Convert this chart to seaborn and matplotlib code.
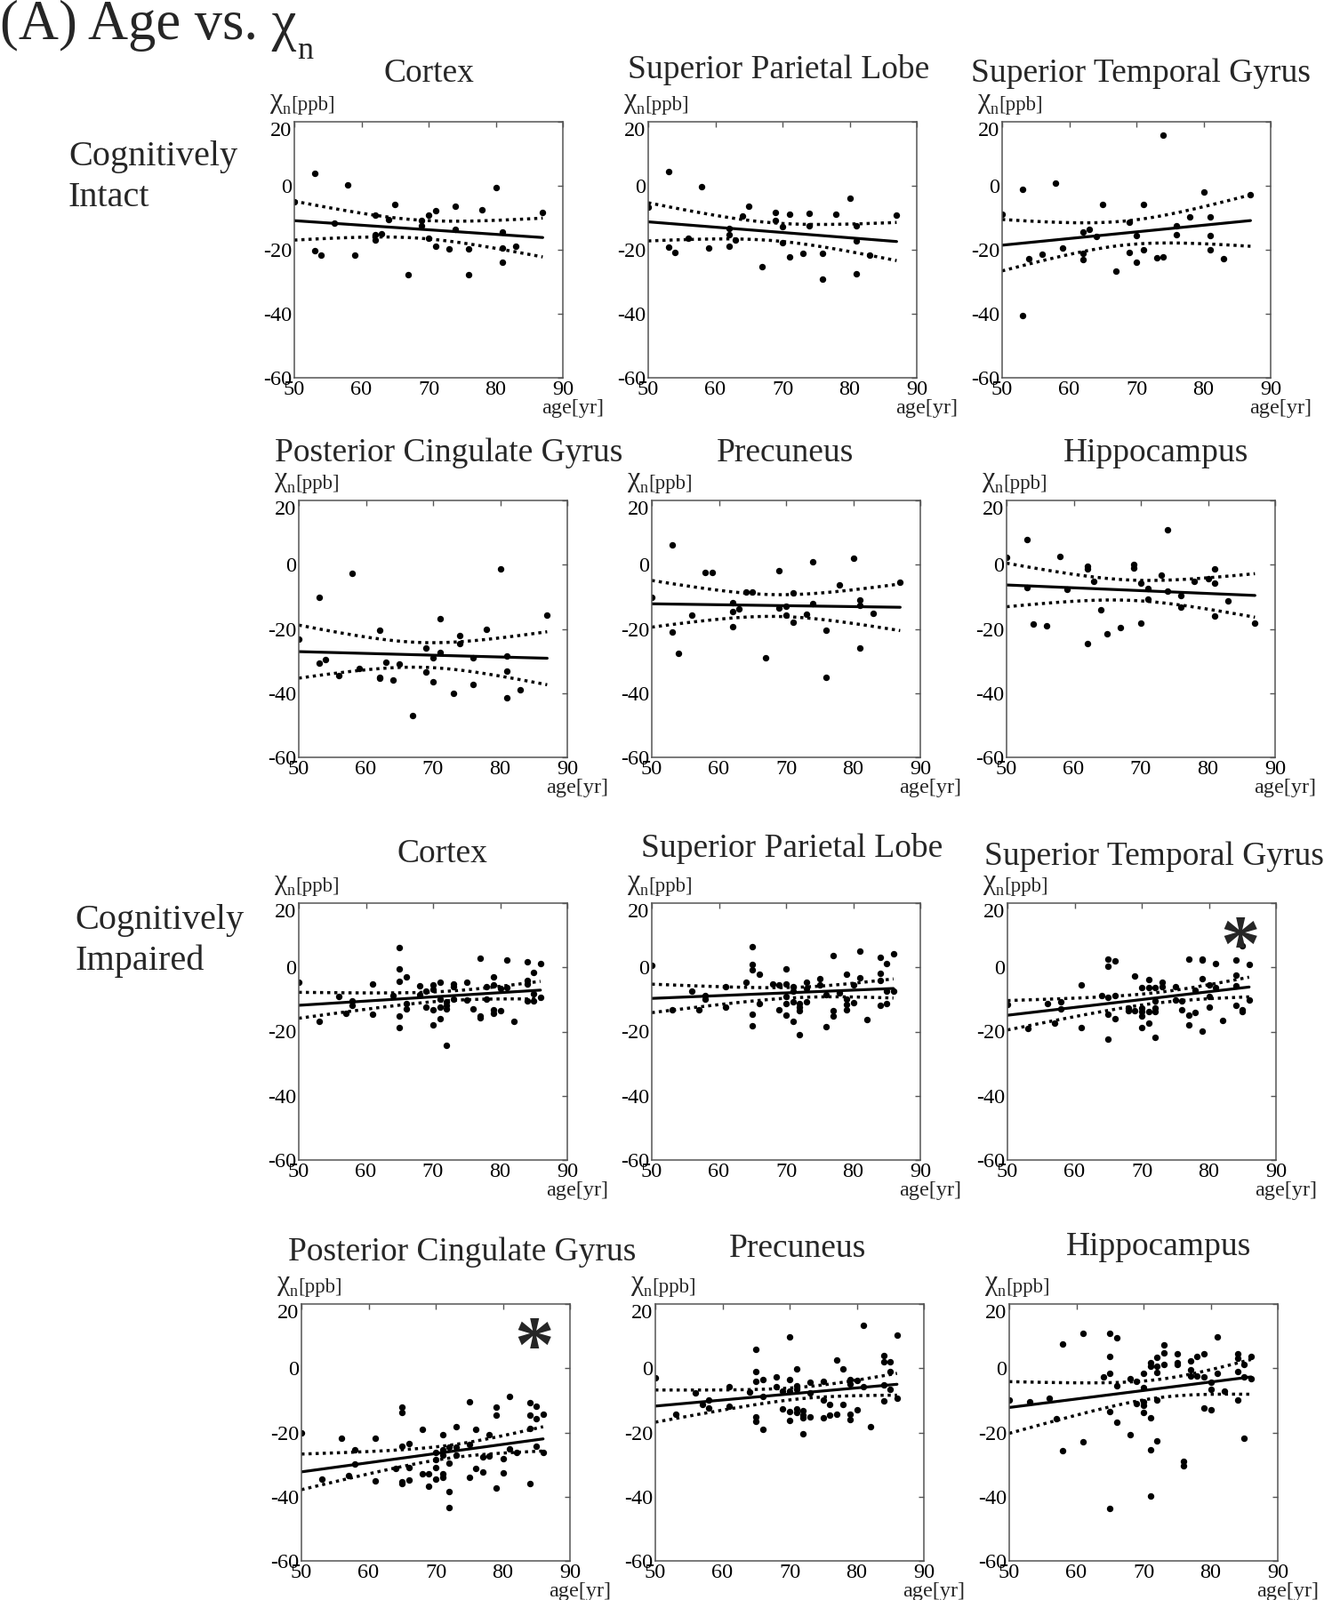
import numpy as np
import pandas as pd
import matplotlib
matplotlib.use("Agg")
import matplotlib.pyplot as plt
import seaborn as sns

# ---------------- data ----------------
# cognitively intact: same subjects (ages) in every region
intact_age = [50, 53, 53, 54, 56, 58, 59, 62, 62, 62, 63, 64, 65, 67, 69, 69,
              70, 70, 71, 71, 73, 74, 74, 76, 76, 78, 80, 81, 81, 81, 83, 87]

int_cortex = [-5.0, 4.0, -20.2, -21.7, -11.7, 0.2, -21.7, -9.1, -15.4, -17.0, -14.9,
              -10.5, -5.9, -27.9, -10.7, -12.6, -9.1, -16.5, -7.8, -18.9, -19.8, -6.4,
              -13.6, -19.8, -27.9, -7.5, -0.6, -14.5, -23.9, -19.5, -19.0, -8.2]
int_spl = [-6.6, 4.5, -19.1, -20.9, -16.4, -0.4, -19.4, -13.3, -15.4, -18.9, -17.0,
           -9.4, -6.4, -25.3, -8.4, -10.8, -12.8, -17.9, -9.0, -22.3, -21.2, -8.7,
           -12.4, -21.2, -29.2, -9.0, -3.8, -12.4, -17.3, -27.6, -21.8, -9.2]
int_stg = [-9.0, -1.1, -40.6, -22.9, -21.4, 0.9, -19.4, -14.5, -21.2, -23.1, -13.6,
           -15.9, -5.9, -26.8, -11.5, -20.8, -15.5, -24.0, -5.9, -19.9, -22.4, 15.9,
           -22.3, -12.5, -15.2, -9.6, -2.0, -9.6, -15.5, -20.0, -22.9, -2.8]
int_pcg = [-23.1, -10.2, -30.6, -29.6, -34.6, -2.8, -32.4, -20.3, -35.4, -35.0, -30.3,
           -35.8, -30.9, -47.1, -25.9, -33.5, -29.1, -36.6, -16.9, -27.2, -40.0, -22.0,
           -24.6, -29.1, -37.2, -20.1, -1.4, -28.4, -33.1, -41.5, -39.1, -15.7]
int_prec = [-10.3, 6.2, -21.1, -27.7, -15.8, -2.5, -2.5, -11.8, -14.6, -19.4, -13.9,
            -8.4, -8.6, -28.9, -1.9, -13.6, -13.0, -15.7, -8.9, -18.0, -15.5, 0.8,
            -12.1, -20.3, -35.2, -6.3, 2.0, -11.1, -12.7, -25.9, -15.2, -5.4]
int_hipp = [2.3, 7.7, -7.2, -18.6, -19.0, 2.6, -7.7, -0.6, -1.2, -24.5, -5.2,
            -14.0, -21.6, -19.5, 0.0, -0.9, -5.8, -18.1, -7.4, -10.6, -3.3, 10.8,
            -8.1, -9.5, -13.2, -5.1, -4.3, -1.2, -5.8, -16.0, -11.2, -18.3]

# cognitively impaired (points that could be told apart in each panel)
imp_cortex_age = [50, 53, 56, 57, 58, 58, 61, 61, 64, 65, 65, 65, 65, 65, 66, 66, 66, 68, 68,
                  69, 69, 70, 70, 70, 70, 71, 71, 71, 71, 72, 72, 72, 72, 73, 73, 73, 75, 75,
                  76, 77, 77, 77, 78, 78, 79, 79, 79, 79, 80, 80, 81, 81, 82, 84, 84, 84, 84,
                  85, 85, 85, 86, 86]
imp_cortex = [-4.5, -16.9, -9.0, -14.3, -10.4, -11.8, -5.3, -14.6, -8.7, 6.2, -0.4, -4.3,
              -15.2, -18.8, -3.1, -11.2, -13.0, -5.8, -8.6, -7.5, -12.5, -5.4, -6.9, -13.2,
              -17.8, -4.7, -9.8, -12.5, -15.9, -10.7, -11.8, -13.0, -24.2, -5.3, -5.9, -9.8,
              -4.7, -10.2, -13.0, 2.9, -15.1, -15.6, -6.1, -10.0, -3.0, -5.6, -13.3, -14.2,
              -6.5, -13.6, 2.4, -6.3, -16.7, 1.8, -4.2, -5.2, -10.5, -1.5, -8.2, -10.5,
              1.3, -9.3]

imp_spl_age = [50, 53, 56, 57, 58, 58, 61, 61, 64, 65, 65, 65, 65, 65, 66, 66, 68, 69, 69,
               70, 70, 70, 70, 70, 71, 71, 71, 71, 72, 72, 72, 72, 73, 73, 73, 75, 75, 76,
               76, 77, 77, 77, 78, 79, 79, 79, 79, 80, 80, 81, 81, 82, 84, 84, 84, 84, 85,
               85, 85, 86, 86]
imp_spl = [0.6, -13.2, -7.5, -13.2, -8.7, -10.0, -6.1, -12.4, -4.7, 6.5, 0.8, -0.7, -14.6,
           -18.1, -2.2, -11.3, -5.3, -5.4, -13.2, -0.4, -5.2, -9.0, -11.3, -15.0, -6.1,
           -7.3, -10.7, -16.7, -11.2, -12.4, -13.6, -21.0, -4.7, -6.7, -10.7, -3.6, -5.6,
           -8.6, -18.5, 3.8, -13.6, -15.1, -7.9, -2.1, -9.8, -11.6, -13.3, -5.6, -10.9,
           5.0, -3.3, -16.4, 3.1, -1.9, -4.2, -11.8, 1.3, -7.3, -11.2, 4.3, -7.3]

imp_stg_age = [50, 53, 56, 57, 58, 58, 61, 61, 64, 65, 65, 65, 65, 65, 66, 66, 66, 68, 68,
               69, 69, 70, 70, 70, 70, 70, 71, 71, 71, 71, 72, 72, 72, 72, 72, 73, 73, 75,
               75, 76, 76, 77, 77, 77, 78, 78, 79, 79, 79, 79, 80, 80, 80, 81, 81, 82, 84,
               84, 84, 84, 85, 85, 85, 86, 86]
imp_stg = [-11.6, -19.1, -11.3, -17.3, -10.8, -13.0, -5.6, -18.7, -8.9, 2.6, 0.4, -9.4,
           -14.5, -22.3, 2.0, -8.9, -16.1, -12.8, -13.5, -2.7, -13.5, -6.2, -12.6, -13.9,
           -15.1, -18.8, -3.9, -6.2, -13.9, -17.3, -6.4, -10.5, -12.8, -13.8, -21.8, -4.5,
           -6.1, -5.9, -10.3, -10.5, -13.1, 2.6, -15.0, -17.9, -7.0, -14.0, 2.6, 2.2, -3.4,
           -19.8, -5.6, -9.1, -12.4, 1.2, -6.2, -16.5, 2.2, -2.5, -5.7, -11.7, 6.8, -13.1,
           -13.8, 0.8, -10.1]

imp_pcg_age = [50, 53, 56, 57, 58, 58, 61, 61, 64, 65, 65, 65, 65, 65, 66, 66, 66, 68, 68,
               69, 69, 70, 70, 70, 70, 71, 71, 71, 71, 71, 72, 72, 72, 72, 73, 73, 73, 75,
               75, 75, 76, 76, 77, 77, 78, 78, 79, 79, 79, 80, 80, 81, 81, 82, 84, 84, 84,
               84, 85, 85, 85, 86, 86]
imp_pcg = [-20.1, -34.6, -21.9, -33.3, -25.3, -29.8, -21.9, -35.1, -31.2, -12.0, -13.7,
           -24.2, -35.3, -36.0, -23.5, -31.0, -34.7, -18.9, -33.0, -33.0, -36.8, -26.1,
           -28.4, -31.0, -34.4, -20.8, -25.3, -27.0, -33.0, -33.9, -24.7, -29.5, -38.3,
           -43.4, -18.2, -24.7, -27.0, -10.4, -23.6, -33.9, -19.0, -31.3, -27.7, -32.4,
           -20.8, -27.3, -12.1, -14.7, -37.4, -28.2, -32.5, -8.8, -25.0, -26.1, -10.6,
           -14.5, -18.7, -35.9, -11.8, -15.8, -24.4, -14.3, -26.3]

imp_prec_age = [50, 53, 56, 57, 58, 58, 61, 61, 64, 65, 65, 65, 65, 65, 66, 66, 66, 68, 68,
                69, 69, 70, 70, 70, 70, 70, 71, 71, 71, 71, 71, 72, 72, 72, 72, 73, 73, 73,
                75, 75, 75, 76, 76, 77, 77, 78, 78, 79, 79, 79, 79, 80, 80, 81, 81, 82, 84,
                84, 84, 84, 85, 85, 85, 86, 86]
imp_prec = [-3.0, -14.4, -7.8, -11.4, -9.9, -12.4, -5.7, -11.9, -7.3, 6.0, -0.9, -4.1,
            -15.1, -16.5, -3.4, -8.7, -19.0, -2.8, -5.7, -7.0, -12.8, 9.7, -3.6, -7.0,
            -13.6, -16.3, -0.2, -5.5, -6.6, -12.8, -13.9, -13.1, -14.7, -15.4, -20.4, -4.3,
            -7.8, -15.1, -4.1, -9.8, -15.4, -11.4, -14.5, 2.5, -14.4, -0.2, -11.3, -3.6,
            -5.0, -14.4, -16.0, -3.9, -13.0, 13.4, -5.7, -18.1, 3.9, 2.1, -5.2, -10.3, 2.1,
            -0.9, -6.7, 10.4, -9.4]

imp_hipp_age = [50, 53, 56, 57, 58, 58, 61, 61, 64, 65, 65, 65, 65, 65, 66, 66, 66, 68, 68,
                69, 69, 70, 70, 70, 70, 70, 71, 71, 71, 71, 71, 72, 72, 72, 72, 72, 73, 73,
                73, 75, 75, 75, 76, 76, 77, 77, 77, 78, 78, 79, 79, 79, 80, 80, 80, 81, 81,
                82, 84, 84, 84, 84, 85, 85, 85, 86, 86]
imp_hipp = [-9.8, -10.4, -9.3, -15.8, 7.6, -25.8, 10.8, -22.9, -2.6, 11.0, 3.7, -1.7,
            -13.4, -43.6, 9.4, -5.4, -16.9, -3.3, -20.6, -4.2, -10.9, -1.7, -6.0, -10.4,
            -11.5, -13.9, 1.6, 0.6, -15.3, -25.4, -39.9, 3.4, 0.6, -1.2, -10.0, -22.7, 7.4,
            4.8, 1.3, 4.5, 1.6, 1.1, -29.0, -30.4, 2.3, -0.5, -2.4, 3.6, -2.3, 4.5, -2.6,
            -12.4, -4.4, -6.5, -12.9, 9.7, -1.5, -7.0, 4.5, 3.1, -0.9, -9.8, 1.1, -2.7,
            -21.8, 3.7, -3.3]

titles = ["Cortex", "Superior Parietal Lobe", "Superior Temporal Gyrus",
          "Posterior Cingulate Gyrus", "Precuneus", "Hippocampus"]
significant = [False] * 8 + [True, True, False, False]   # the '*' panels

panels = [(intact_age, int_cortex), (intact_age, int_spl), (intact_age, int_stg),
          (intact_age, int_pcg), (intact_age, int_prec), (intact_age, int_hipp),
          (imp_cortex_age, imp_cortex), (imp_spl_age, imp_spl), (imp_stg_age, imp_stg),
          (imp_pcg_age, imp_pcg), (imp_prec_age, imp_prec), (imp_hipp_age, imp_hipp)]

# ---------------- style ----------------
sns.set_theme(style="white")
plt.rcParams["font.family"] = ["Liberation Serif", "DejaVu Serif"]
plt.rcParams["axes.unicode_minus"] = False

W, H = 1489, 1800
fig = plt.figure(figsize=(W / 100, H / 100), dpi=100)

# layout in pixels (left edge of each column per row, top/bottom of each row)
row_tb = [(137, 425), (563, 852), (1016, 1305), (1467, 1756)]
col_left = [[331, 729, 1127], [336, 733, 1132], [336, 733, 1133], [339, 737, 1135]]
ax_w = 302
title_cx = [[482, 876, 1283], [505, 883, 1300], [497, 891, 1298], [520, 897, 1303]]
title_base = [[92, 88, 92], [519, 519, 519], [970, 964, 973], [1418, 1414, 1412]]
tick_fs = 17.5


def t_crit(df, z=1.959964):
    # two-sided 95% Student t quantile (Cornish-Fisher expansion)
    return z + (z**3 + z) / (4 * df) + (5 * z**5 + 16 * z**3 + 3 * z) / (96 * df**2)


def corner_text(ax, s, dx, dy, fs):
    # text placed at a pixel offset from the axes' top-left corner
    ax.annotate(s, xy=(0, 1), xycoords="axes fraction", xytext=(dx * 0.72, dy * 0.72),
                textcoords="offset points", ha="left", va="baseline", fontsize=fs)


for i, (ages, vals) in enumerate(panels):
    r, c = divmod(i, 3)
    top, bot = row_tb[r]
    left = col_left[r][c]
    ax = fig.add_axes([left / W, 1 - bot / H, ax_w / W, (bot - top) / H])

    df = pd.DataFrame({"age": ages, "chi": vals})
    sns.regplot(data=df, x="age", y="chi", ax=ax, ci=None, truncate=True, color="black",
                scatter_kws={"s": 28, "linewidths": 0, "alpha": 1},
                line_kws={"lw": 2.3})

    # 95% confidence band of the fitted line, dotted
    x = df["age"].to_numpy(float)
    y = df["chi"].to_numpy(float)
    b, a = np.polyfit(x, y, 1)
    n = len(x)
    s = np.sqrt(((y - (a + b * x)) ** 2).sum() / (n - 2))
    xs = np.linspace(x.min(), x.max(), 200)
    se = s * np.sqrt(1 / n + (xs - x.mean()) ** 2 / ((x - x.mean()) ** 2).sum())
    half = t_crit(n - 2) * se
    for sign in (1, -1):
        ax.plot(xs, a + b * xs + sign * half, color="black", lw=2.5, ls=(0, (1, 1.3)))

    ax.set_xlim(50, 90)
    ax.set_ylim(-60, 20)
    ax.set_xticks([50, 60, 70, 80, 90])
    ax.set_yticks([-60, -40, -20, 0, 20])
    ax.set_xlabel("")
    ax.set_ylabel("")
    ax.tick_params(direction="in", length=4, width=1, color="#555555", labelsize=tick_fs,
                   labelcolor="black", top=True, right=True, pad=2)
    for sp in ax.spines.values():
        sp.set_color("#555555")
        sp.set_linewidth(1.1)
    ax.get_yticklabels()[-1].set_va("top")

    # y unit label: big chi, subscript n, [ppb]
    corner_text(ax, "χ", -27, 16, 23)
    corner_text(ax, "n", -13, 9, 13)
    corner_text(ax, "[ppb]", -4, 13, 16.5)
    ax.text(1.152, -0.139, "age[yr]", transform=ax.transAxes,
            ha="right", va="baseline", fontsize=tick_fs)
    if significant[i]:
        ax.text(0.865, 0.82, "*", transform=ax.transAxes, ha="center", va="center",
                fontsize=64, fontweight="bold")

    fig.text(title_cx[r][c] / W, 1 - title_base[r][c] / H, titles[i % 6],
             ha="center", va="baseline", fontsize=27)

# group labels and panel letter
fig.text(0, 1 - 44 / H, "(A) Age vs. χ", ha="left", va="baseline", fontsize=45)
fig.text(334 / W, 1 - 66 / H, "n", ha="left", va="baseline", fontsize=26)
fig.text(77 / W, 1 - 186 / H, "Cognitively", ha="left", va="baseline", fontsize=29)
fig.text(77 / W, 1 - 232 / H, "Intact", ha="left", va="baseline", fontsize=29)
fig.text(84 / W, 1 - 1045 / H, "Cognitively", ha="left", va="baseline", fontsize=29)
fig.text(84 / W, 1 - 1091 / H, "Impaired", ha="left", va="baseline", fontsize=29)

fig.savefig("out.png", dpi=100, facecolor="white")
